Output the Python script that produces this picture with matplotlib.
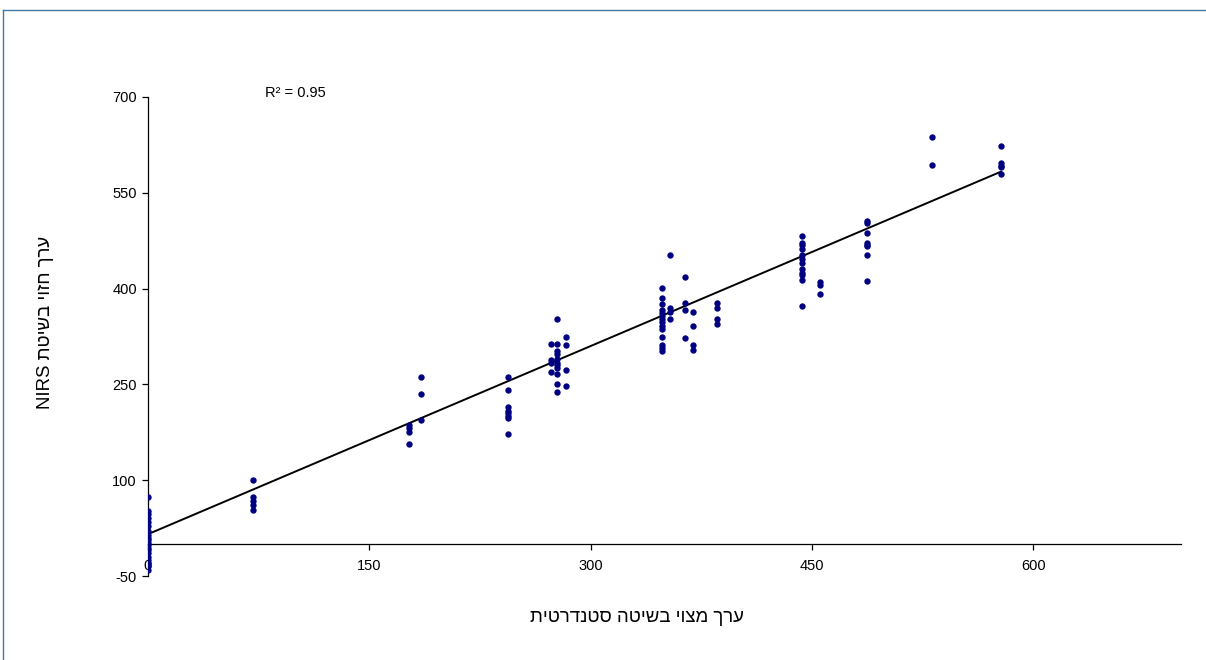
import numpy as np
import matplotlib
matplotlib.use("Agg")
import matplotlib.pyplot as plt
from matplotlib.lines import Line2D

plt.rcParams['font.family'] = ['Liberation Sans', 'DejaVu Sans']

# Measured (standard method) value of each sample group and the NIRS predictions for it
group_x = [0, 71, 177, 185, 244, 273, 277, 283, 348.5, 354, 364, 369, 385.5,
           443, 455.6, 487, 531, 578]
group_y = [
    [73, 52, 47, 41, 35, 28, 21, 14, 10, 6, 2, -2, -6, -10, -14, -20, -25, -30, -35, -40],
    [101, 73, 68, 61, 53],
    [186, 181, 175, 157],
    [261, 235, 194],
    [261, 242, 214, 209, 205, 201, 197, 172],
    [313, 288, 283, 269],
    [352, 313, 303, 297, 290, 284, 280, 275, 266, 250, 238],
    [325, 312, 272, 248],
    [401, 385, 376, 367, 362, 357, 352, 347, 342, 337, 325, 312, 307, 302],
    [452, 370, 364, 353],
    [418, 378, 366, 322],
    [364, 341, 312, 304],
    [378, 370, 352, 345],
    [483, 471, 468, 462, 452, 446, 440, 430, 425, 422, 414, 373],
    [411, 405, 392],
    [506, 503, 487, 472, 469, 466, 453, 412],
    [637, 594],
    [623, 596, 592, 590, 579],
]

# linear trend line of the calibration
trend_intercept = 15.5
trend_slope = 0.982

x_ticks = [0, 150, 300, 450, 600]
y_ticks = [-50, 100, 250, 400, 550, 700]
r2_label = "R² = 0.95"
x_title = "ערך מצוי בשיטה סטנדרטית"
y_title = "ערך חזוי בשיטת NIRS"


def visual_order(text):
    """Lay out a right-to-left Hebrew phrase for left-to-right glyph rendering."""
    words = text.split(' ')
    out = []
    for w in reversed(words):
        if any('\u0590' <= ch <= '\u05FF' for ch in w):
            out.append(w[::-1])
        else:
            out.append(w)
    return ' '.join(out)


xs = np.concatenate([[gx] * len(gy) for gx, gy in zip(group_x, group_y)])
ys = np.concatenate([np.asarray(gy, dtype=float) for gy in group_y])

fig = plt.figure(figsize=(12.06, 6.6), dpi=100)
ax = fig.add_axes([148 / 1206, 1 - 576 / 660, 1033 / 1206, 479 / 660])

ax.scatter(xs, ys, s=21, color='#000080', zorder=3, linewidths=0)

line_x = np.array([0, max(group_x)])
ax.plot(line_x, trend_intercept + trend_slope * line_x, color='black', lw=1.4, zorder=2)

ax.set_xlim(0, 700)
ax.set_ylim(-50, 700)
ax.set_xticks(x_ticks)
ax.set_yticks(y_ticks)
ax.set_xticklabels([str(v) for v in x_ticks])
ax.set_yticklabels([str(v) for v in y_ticks])

ax.spines['top'].set_visible(False)
ax.spines['right'].set_visible(False)
ax.spines['bottom'].set_position(('data', 0))
for s in ('left', 'bottom'):
    ax.spines[s].set_linewidth(0.9)
    ax.spines[s].set_color('black')
ax.tick_params(axis='both', direction='out', length=4, width=0.9,
               labelsize=10.5, colors='black')
ax.tick_params(axis='x', pad=7)
ax.tick_params(axis='y', pad=4)

ax.text(265 / 1206, 1 - 93 / 660, r2_label, transform=fig.transFigure,
        fontsize=10.5, ha='left', va='center')

fig.text(637 / 1206, 1 - 618 / 660, visual_order(x_title), fontsize=13.4,
         ha='center', va='center')
fig.text(46 / 1206, 1 - 322 / 660, visual_order(y_title), fontsize=13.4,
         ha='center', va='center', rotation=90)

# chart area frame (top and left edges)
frame_color = '#3f7aa6'
fig.add_artist(Line2D([2.5 / 1206, 1], [1 - 9.5 / 660, 1 - 9.5 / 660],
                      transform=fig.transFigure, color=frame_color, lw=1.0))
fig.add_artist(Line2D([2.5 / 1206, 2.5 / 1206], [0, 1 - 9.5 / 660],
                      transform=fig.transFigure, color=frame_color, lw=1.0))

fig.savefig('out.png', dpi=100, facecolor='white')
